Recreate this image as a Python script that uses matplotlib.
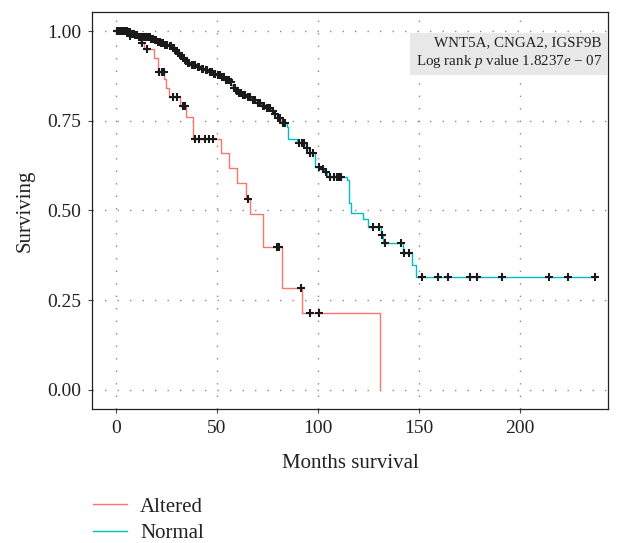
"""
Kaplan-Meier 生存曲线 - Altered vs Normal
"""

import matplotlib
matplotlib.use('Agg')
import matplotlib.pyplot as plt
from matplotlib.lines import Line2D
import numpy as np

plt.rcParams['font.family'] = ['Liberation Serif', 'DejaVu Serif']
plt.rcParams['mathtext.fontset'] = 'custom'
plt.rcParams['mathtext.rm'] = 'Liberation Serif'
plt.rcParams['mathtext.it'] = 'Liberation Serif:italic'

# ---------------- 数据 ----------------
# Altered 组: 事件时间 / 事件后生存率
altered_times = [0, 6, 12, 14, 19, 21, 24, 25, 26, 31.5, 34.5, 38, 52, 56,
                 60, 64.5, 66.5, 73, 82.3, 92, 131]
altered_surv = [1.0, 0.986, 0.966, 0.949, 0.925, 0.887, 0.865, 0.840, 0.817,
                0.791, 0.761, 0.700, 0.659, 0.618, 0.576, 0.533, 0.489, 0.399,
                0.283, 0.214, 0.0]
altered_censor = [7, 12.8, 15.2, 21.5, 22.8, 23.8, 28.2, 30.2, 33, 34.2, 39,
                  41, 44, 46, 48, 65.2, 79.6, 80.8, 91.5, 96, 100.6]

# Normal 组
normal_times = [0, 5.5, 7.5, 9, 11, 14, 17, 19, 20.5, 22, 24, 26, 27.5, 29,
                30, 31.5, 32.5, 34, 35, 37, 40, 42, 44, 46, 48, 50, 52, 54,
                56.4, 57.2, 58, 59.5, 60.5, 62.5, 64.7, 67, 69.7, 72, 74.6,
                77, 78.5, 79.5, 82, 84.5, 85.3, 89.6, 94, 95.5, 98.5, 101,
                103, 104.6, 114.3, 115.3, 116.5, 122.1, 124.6, 131.5, 132.3,
                142.2, 146.4, 148.4]
normal_surv = [1.0, 0.996, 0.992, 0.988, 0.984, 0.982, 0.979, 0.974, 0.970,
               0.966, 0.962, 0.957, 0.952, 0.945, 0.938, 0.931, 0.924, 0.917,
               0.910, 0.905, 0.900, 0.895, 0.891, 0.886, 0.881, 0.877, 0.871,
               0.864, 0.859, 0.850, 0.840, 0.833, 0.826, 0.821, 0.817, 0.808,
               0.799, 0.792, 0.785, 0.778, 0.768, 0.757, 0.743, 0.733, 0.698,
               0.687, 0.673, 0.661, 0.622, 0.615, 0.608, 0.592, 0.585, 0.520,
               0.494, 0.475, 0.455, 0.432, 0.409, 0.381, 0.348, 0.316]
normal_censor = [0.3, 0.8, 1.2, 1.7, 2.1, 2.6, 3.0, 3.5, 4.0, 4.4, 4.9, 5.3,
                 6.0, 6.8, 8.0, 8.7, 9.5, 10.3, 11.5, 12.3, 13.0, 13.8, 14.5,
                 15.3, 16.0, 16.8, 17.5, 18.3, 19.5, 20.0, 21.0, 21.6, 22.5,
                 23.2, 24.5, 25.3, 26.5, 27.0, 28.0, 28.6, 29.5, 30.5, 31.0,
                 32.0, 33.0, 33.6, 34.5, 35.5, 36.2, 37.5, 38.3, 39.0, 40.5,
                 41.3, 42.5, 43.3, 44.5, 45.2, 46.5, 47.3, 48.5, 49.2, 50.5,
                 51.3, 52.5, 53.3, 54.5, 55.2, 56.0, 57.0, 58.5, 59.0, 60.0,
                 61.0, 62.0, 63.0, 64.0, 65.5, 66.3, 68.0, 69.0, 70.5, 71.4,
                 72.9, 73.5, 74.9, 75.6, 76.4, 77.9, 78.8, 80.2, 81.3, 82.9,
                 83.8, 90.5, 92.2, 93.0, 94.4, 96.0, 97.7, 100.6, 102.3,
                 103.9, 106.0, 108.0, 109.5, 110.5, 111.5, 127.4, 130.4,
                 131.8, 133.0, 141.0, 142.6, 145.2, 151.5, 159.4, 164.2,
                 175.2, 179.0, 191.2, 214.4, 223.8, 237.5]

x_ticks = [0, 50, 100, 150, 200]
y_ticks = [0.0, 0.25, 0.50, 0.75, 1.00]
y_ticklabels = ['0.00', '0.25', '0.50', '0.75', '1.00']

gene_label = 'WNT5A, CNGA2, IGSF9B'
pval_label = r'Log rank $\mathit{p}$ value 1.8237$\mathit{e}$ − 07'

COLOR_ALT = '#F8766D'
COLOR_NORM = '#00BFC4'


def censor_y(times, surv, cens):
    """删失点所在的生存率"""
    idx = np.searchsorted(times, cens, side='right') - 1
    return np.asarray(surv)[idx]


fig = plt.figure(figsize=(6.18, 5.43), dpi=100)
W, H = 618, 543
ax = fig.add_axes([92 / W, (H - 409) / H, (608 - 92) / W, (409 - 12) / H])

# 网格 (点线)
for xv in x_ticks:
    ax.axvline(xv, color='#8a8a8a', lw=1.0, ls=(0, (1, 8)), zorder=0)
for yv in y_ticks:
    ax.axhline(yv, color='#8a8a8a', lw=1.0, ls=(0, (1, 8)), zorder=0)

# Normal 曲线 (延伸至最后删失点)
nt = list(normal_times) + [max(normal_censor)]
ns = list(normal_surv) + [normal_surv[-1]]
ax.step(nt, ns, where='post', color=COLOR_NORM, lw=1.0, zorder=2)
ax.step(altered_times, altered_surv, where='post', color=COLOR_ALT, lw=1.0, zorder=2)

# 删失标记
ax.plot(normal_censor, censor_y(normal_times, normal_surv, normal_censor),
        ls='none', marker='+', ms=5.5, mew=1.5, color='#1a1a1a', zorder=3)
ax.plot(altered_censor, censor_y(altered_times, altered_surv, altered_censor),
        ls='none', marker='+', ms=5.5, mew=1.5, color='#1a1a1a', zorder=3)

ax.set_xlim(-11.9, 243.7)
ax.set_ylim(-0.053, 1.053)
ax.set_xticks(x_ticks)
ax.set_yticks(y_ticks)
ax.set_yticklabels(y_ticklabels)
ax.tick_params(length=2.8, width=0.8, color='#444444', pad=5,
               labelsize=14, labelcolor='#222222')
for s in ax.spines.values():
    s.set_linewidth(0.9)
    s.set_color('#222222')

ax.set_xlabel('Months survival', fontsize=15, color='#222222', labelpad=12)
ax.set_ylabel('Surviving', fontsize=15, color='#222222', labelpad=9)

# 标注框 (右上角)
ax.text(0.988, 0.897, gene_label + '\n' + pval_label, transform=ax.transAxes,
        ha='right', va='center', multialignment='right', fontsize=10.8,
        color='#222222', linespacing=1.3,
        bbox=dict(boxstyle='square,pad=0.35', fc='#e8e8e8', ec='none'))

# 图例
handles = [Line2D([], [], color=COLOR_ALT, lw=1.0),
           Line2D([], [], color=COLOR_NORM, lw=1.0)]
fig.legend(handles, ['Altered', 'Normal'], loc='upper left',
           bbox_to_anchor=(93 / W, (H - 497) / H), frameon=False,
           borderpad=0, borderaxespad=0,
           fontsize=15, handlelength=1.65, handletextpad=0.62,
           labelspacing=0.35, labelcolor='#222222')

fig.savefig('out.png', dpi=100)
plt.close(fig)
